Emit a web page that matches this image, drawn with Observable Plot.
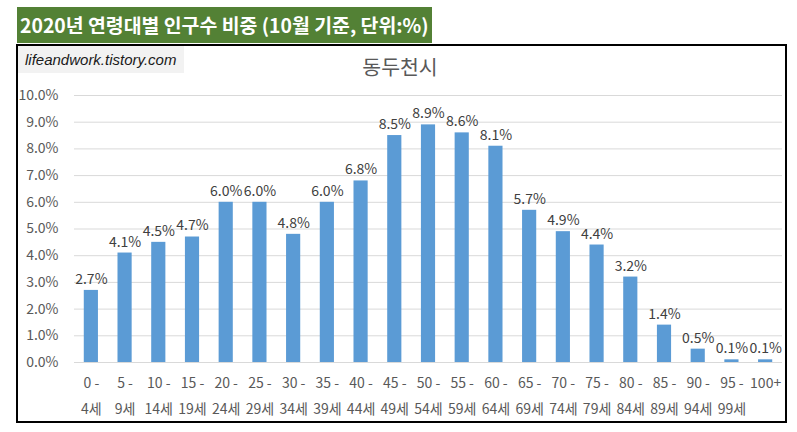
<!DOCTYPE html>
<html>
<head>
<meta charset="utf-8">
<script src="https://cdn.jsdelivr.net/npm/d3@7"></script>
<script src="https://cdn.jsdelivr.net/npm/@observablehq/plot@0.6"></script>
<style>
  html, body { margin: 0; padding: 0; background: #fff; }
  #wrap { position: relative; width: 797px; height: 432px; overflow: hidden; font-family: "Noto Sans CJK KR", "Noto Sans", sans-serif; }
  #titlebar { position: absolute; left: 17px; top: 7px; width: 415px; height: 36px; background: #538135; color: #fff;
    font-weight: bold; font-size: 19.4px; line-height: 36px; padding-left: 3px; box-sizing: border-box; white-space: nowrap; }
  #frame { position: absolute; left: 16px; top: 44px; width: 771px; height: 379px; border: 2px solid #000; box-sizing: border-box; }
  #wm { position: absolute; left: 18px; top: 46px; width: 166px; height: 27px; background: #f2f2f2; color: #1a1a1a;
    font-family: "Liberation Sans", sans-serif; font-style: italic; font-size: 15px; line-height: 27px; padding-left: 7px; box-sizing: border-box; white-space: nowrap; }
  #ctitle { position: absolute; left: 300px; width: 200px; top: 52px; text-align: center; color: #595959; font-size: 20.5px; line-height: 28px; }
  #chart { position: absolute; left: 0; top: 0; }
</style>
</head>
<body>
<div id="wrap">
  <div id="chart"></div>
  <div id="frame"></div>
  <div id="titlebar">2020년 연령대별 인구수 비중 (10월 기준, 단위:%)</div>
  <div id="wm">lifeandwork.tistory.com</div>
  <div id="ctitle">동두천시</div>
</div>
<script>
const ageGroups = ["0 -\n4세","5 -\n9세","10 -\n14세","15 -\n19세","20 -\n24세","25 -\n29세","30 -\n34세","35 -\n39세","40 -\n44세","45 -\n49세","50 -\n54세","55 -\n59세","60 -\n64세","65 -\n69세","70 -\n74세","75 -\n79세","80 -\n84세","85 -\n89세","90 -\n94세","95 -\n99세","100+"];
const shares = [2.7, 4.1, 4.5, 4.7, 6.0, 6.0, 4.8, 6.0, 6.8, 8.5, 8.9, 8.6, 8.1, 5.7, 4.9, 4.4, 3.2, 1.4, 0.5, 0.1, 0.1];
const yTicks = [0,1,2,3,4,5,6,7,8,9,10];

const data = ageGroups.map((age, i) => ({age, value: shares[i]}));

const chart = Plot.plot({
  width: 797,
  height: 432,
  marginLeft: 74,
  marginRight: 15,
  marginTop: 95,
  marginBottom: 70,
  style: { fontFamily: '"Noto Sans CJK KR", "Noto Sans", sans-serif', background: "transparent", color: "#595959" },
  x: { domain: ageGroups, paddingInner: 0.58, paddingOuter: 0.29, align: 0.5, round: false },
  y: { domain: [0, 10] },
  marks: [
    Plot.gridY(yTicks, { stroke: "#d9d9d9", strokeOpacity: 1 }),
    Plot.barY(data, { x: "age", y: "value", fill: "#5b9bd5" }),
    Plot.ruleY([0], { stroke: "#d9d9d9" }),
    Plot.text(data, { x: "age", y: "value", text: d => d.value.toFixed(1) + "%", dy: -11, fontSize: 14, fill: "#404040" }),
    Plot.axisY(yTicks, { tickSize: 0, tickPadding: 16, fontSize: 14, fill: "#595959", tickFormat: d => d.toFixed(1) + "%", label: null }),
    Plot.axisX({ tickSize: 0, tickPadding: 7.5, fontSize: 14, fill: "#595959", lineHeight: 1.83, label: null })
  ]
});
document.getElementById("chart").appendChild(chart);
</script>
</body>
</html>
